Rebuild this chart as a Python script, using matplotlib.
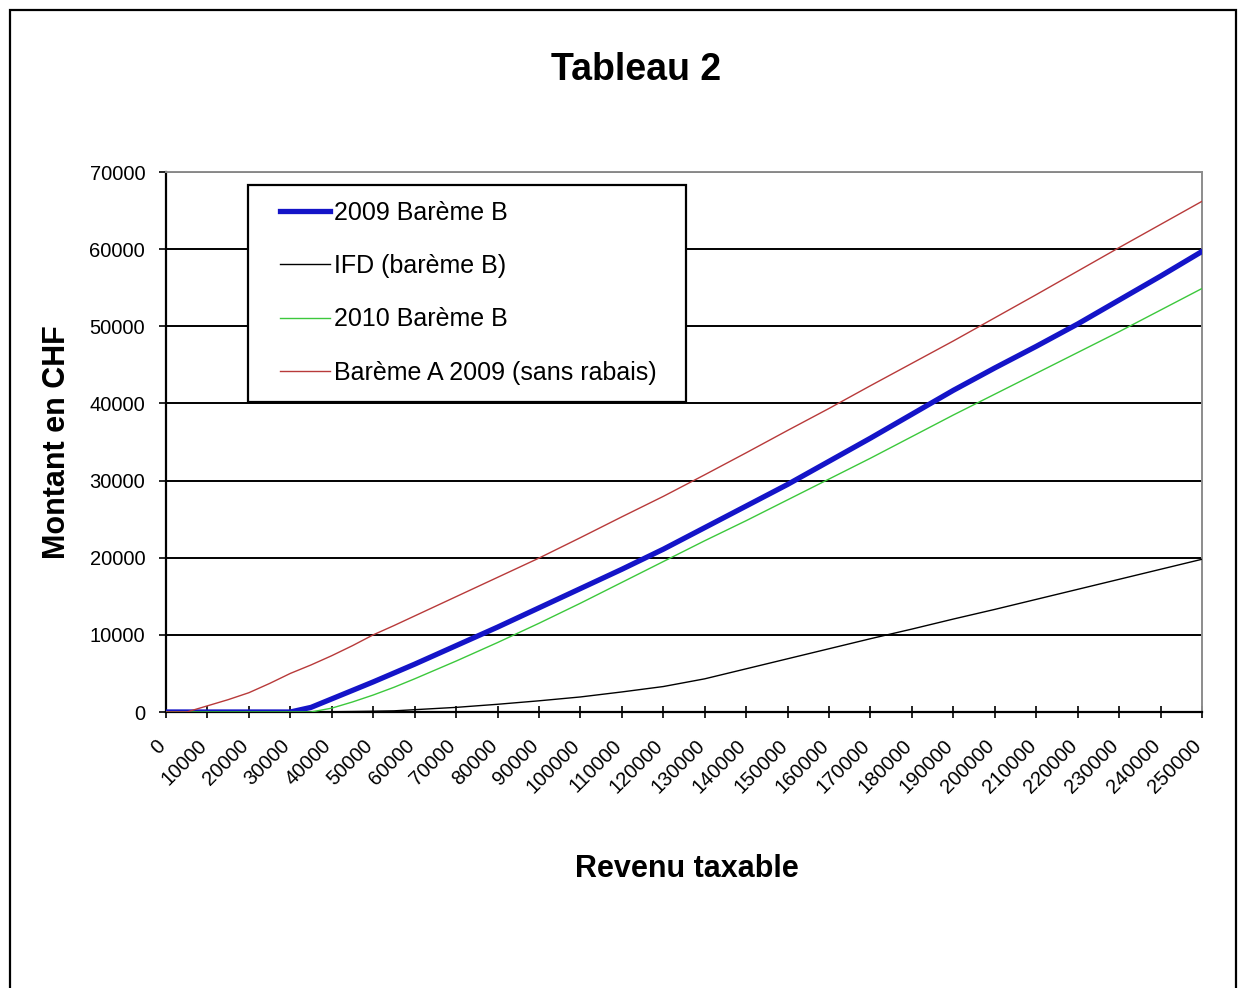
import matplotlib
matplotlib.use("Agg")
import matplotlib.pyplot as plt
from matplotlib.patches import Rectangle
from matplotlib.transforms import ScaledTranslation

# ── data ──
revenu = [0, 5000, 10000, 15000, 20000, 25000, 30000, 35000, 40000, 45000,
          50000, 55000, 60000, 70000, 80000, 90000, 100000, 110000, 120000,
          130000, 140000, 150000, 160000, 170000, 180000, 190000, 200000,
          210000, 220000, 230000, 240000, 250000]

bareme_b_2009 = [0, 0, 0, 0, 0, 0, 0, 600, 1700, 2800,
                 3900, 5050, 6200, 8600, 11000, 13500, 16000, 18500, 21100,
                 23900, 26700, 29500, 32500, 35500, 38600, 41700, 44600,
                 47400, 50300, 53400, 56500, 59700]

ifd_bareme_b = [0, 0, 0, 0, 0, 0, 0, 0, 30, 60,
                100, 150, 300, 600, 1000, 1450, 1950, 2600, 3300,
                4300, 5600, 6900, 8200, 9500, 10750, 12050, 13300,
                14600, 15900, 17200, 18500, 19800]

bareme_b_2010 = [0, 0, 0, 0, 0, 0, 0, 0, 500, 1300,
                 2200, 3200, 4300, 6600, 9000, 11500, 14100, 16800, 19500,
                 22200, 24800, 27500, 30200, 32900, 35700, 38500, 41200,
                 43900, 46600, 49300, 52100, 54900]

bareme_a_2009 = [0, 0, 800, 1600, 2500, 3700, 5000, 6100, 7300, 8600,
                 10000, 11200, 12450, 14950, 17450, 19950, 22600, 25300, 27950,
                 30750, 33600, 36500, 39350, 42300, 45200, 48100, 51100,
                 54100, 57150, 60200, 63200, 66200]

labels = ["2009 Barème B", "IFD (barème B)", "2010 Barème B",
          "Barème A 2009 (sans rabais)"]
x_ticks = list(range(0, 250001, 10000))
y_ticks = list(range(0, 70001, 10000))

plt.rcParams["font.family"] = ["Liberation Sans", "DejaVu Sans"]

W, H = 1238, 988
fig = plt.figure(figsize=(W / 100, H / 100), dpi=100)

# outer frame of the picture
fig.add_artist(Rectangle((10 / W, -0.01), (1236 - 10) / W, 1 - 10 / H + 0.01,
                         transform=fig.transFigure, fill=False,
                         edgecolor="black", linewidth=1.6))

# plot area in pixels: x 166..1202, y 172..712
ax = fig.add_axes([166 / W, 1 - 712 / H, (1202 - 166) / W, (712 - 172) / H])

ax.plot(revenu, bareme_b_2009, color="#1414C8", linewidth=3.8, zorder=3,
        label=labels[0])
ax.plot(revenu, ifd_bareme_b, color="black", linewidth=1.0, zorder=4,
        label=labels[1])
ax.plot(revenu, bareme_b_2010, color="#3CC83C", linewidth=1.0, zorder=4,
        label=labels[2])
ax.plot(revenu, bareme_a_2009, color="#B83A3A", linewidth=1.0, zorder=4,
        label=labels[3])

ax.set_xlim(0, 250000)
ax.set_ylim(0, 70000)
ax.set_xticks(x_ticks)
ax.set_yticks(y_ticks)
ax.set_xticklabels([str(v) for v in x_ticks], rotation=45, ha="right",
                   va="top", rotation_mode="anchor")
ax.set_yticklabels([str(v) for v in y_ticks])
ax.tick_params(axis="y", direction="out", length=5, width=1.2, pad=10,
               labelsize=14.5)
ax.tick_params(axis="x", direction="inout", length=9, width=1.2, pad=8,
               labelsize=14.5)
# nudge the slanted labels left/down so they end just under each tick
shift = ScaledTranslation(-10 / 100, -7 / 100, fig.dpi_scale_trans)
for lab in ax.get_xticklabels():
    lab.set_transform(lab.get_transform() + shift)

ax.yaxis.grid(True, color="black", linewidth=1.4, zorder=1)
ax.set_axisbelow(True)
for side in ("left", "bottom"):
    ax.spines[side].set_color("black")
    ax.spines[side].set_linewidth(1.6)
for side in ("top", "right"):
    ax.spines[side].set_color("#8c8c8c")
    ax.spines[side].set_linewidth(1.4)

# legend box drawn by hand so that the padding matches
ax.add_patch(Rectangle(((248 - 166) / 1036, (712 - 402) / 540),
                       (686 - 248) / 1036, (402 - 185) / 540,
                       transform=ax.transAxes, facecolor="white",
                       edgecolor="black", linewidth=1.6, zorder=6))
leg = ax.legend(loc="upper left", bbox_to_anchor=((280 - 166) / 1036,
                                                  (712 - 201) / 540),
                frameon=False, fontsize=18, borderpad=0, handlelength=2.0,
                handletextpad=0.15, labelspacing=1.17, borderaxespad=0)
leg.set_zorder(7)

fig.text(636 / W, 1 - 70 / H, "Tableau 2", ha="center", va="center",
         fontsize=27, fontweight="bold")
fig.text(57 / W, 1 - 442 / H, "Montant en CHF", ha="center", va="center",
         rotation=90, fontsize=22, fontweight="bold")
fig.text(687 / W, 1 - 869 / H, "Revenu taxable", ha="center", va="center",
         fontsize=22, fontweight="bold")

fig.savefig("out.png", dpi=100, facecolor="white")
